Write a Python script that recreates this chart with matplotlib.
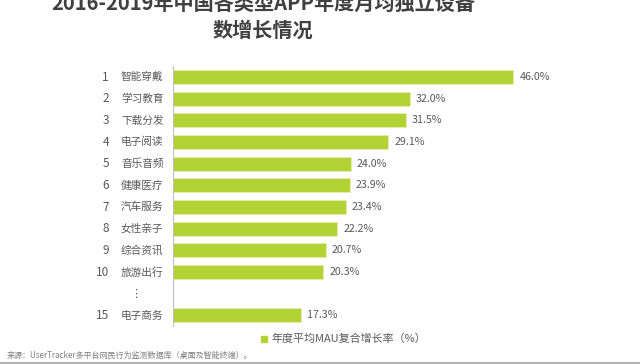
import matplotlib
matplotlib.use("Agg")
import matplotlib.pyplot as plt
import matplotlib.transforms as mtrans
import numpy as np

plt.rcParams['font.family'] = ['Noto Sans CJK SC', 'DejaVu Sans']

ranks = ["1", "2", "3", "4", "5", "6", "7", "8", "9", "10", "⋮", "15"]
categories = ["智能穿戴", "学习教育", "下载分发", "电子阅读", "音乐音频", "健康医疗",
              "汽车服务", "女性亲子", "综合资讯", "旅游出行", "", "电子商务"]
values = [46.0, 32.0, 31.5, 29.1, 24.0, 23.9, 23.4, 22.2, 20.7, 20.3, np.nan, 17.3]
legend_label = "年度平均MAU复合增长率（%）"
title = "2016-2019年中国各类型APP年度月均独立设备\n数增长情况"
source = "来源：UserTracker多平台网民行为监测数据库（桌面及智能终端）。"

W, H = 640, 364
fig = plt.figure(figsize=(W / 100, H / 100), dpi=100)
fig.patch.set_facecolor("white")

left, right = 173 / W, 617 / W
top, bottom = 1 - 66.2 / H, 1 - 326.2 / H
ax = fig.add_axes([left, bottom, right - left, top - bottom])

bar_color = "#B3D235"
text_gray = "#595959"
y = np.arange(len(values))
vals = np.array(values, dtype=float)
mask = ~np.isnan(vals)
ax.barh(y[mask], vals[mask], height=0.65, color=bar_color, edgecolor="#E4EFB0", linewidth=0.6)

ax.set_xlim(0, 60)
ax.set_ylim(len(values) - 0.5, -0.5)
for s in ["top", "right", "bottom"]:
    ax.spines[s].set_visible(False)
ax.spines["left"].set_color("#BFBFBF")
ax.spines["left"].set_linewidth(0.8)
ax.set_xticks([])
ax.set_yticks([])

for yi, v in zip(y, vals):
    if not np.isnan(v):
        ax.text(v + 0.8, yi, f"{v:.1f}%", va="center", ha="left", fontsize=7.7, color=text_gray)

trans = mtrans.blended_transform_factory(fig.transFigure, ax.transData)
for yi, r, c in zip(y, ranks, categories):
    if r == "⋮":
        ax.text(136 / W, yi, r, transform=trans, ha="center", va="center", fontsize=8,
                color=text_gray, family=['DejaVu Sans'])
    else:
        ax.text(109 / W, yi, r, transform=trans, ha="right", va="center", fontsize=8.5, color=text_gray)
        ax.text(121 / W, yi, c, transform=trans, ha="left", va="center", fontsize=7.7, color=text_gray)

# legend
fig.patches.append(plt.Rectangle((261 / W, 1 - 341.5 / H), 6 / W, 6 / H, transform=fig.transFigure,
                                 color=bar_color, figure=fig))
fig.text(271 / W, 1 - 338.5 / H, legend_label, ha="left", va="center", fontsize=7.9, color=text_gray)

# title
fig.text(263 / W, 1 - 17 / H, title, ha="center", va="center", fontsize=14.5, fontweight="bold",
         color="#404040", linespacing=1.35)

# source
fig.text(7 / W, 1 - 355 / H, source, ha="left", va="center", fontsize=5.8, color="#7F7F7F")
fig.add_artist(plt.Line2D([0, 1], [1 - 362.5 / H, 1 - 362.5 / H], transform=fig.transFigure,
                          color="#A6A6A6", linewidth=1.2))

fig.savefig("out.png", dpi=100, facecolor="white")
